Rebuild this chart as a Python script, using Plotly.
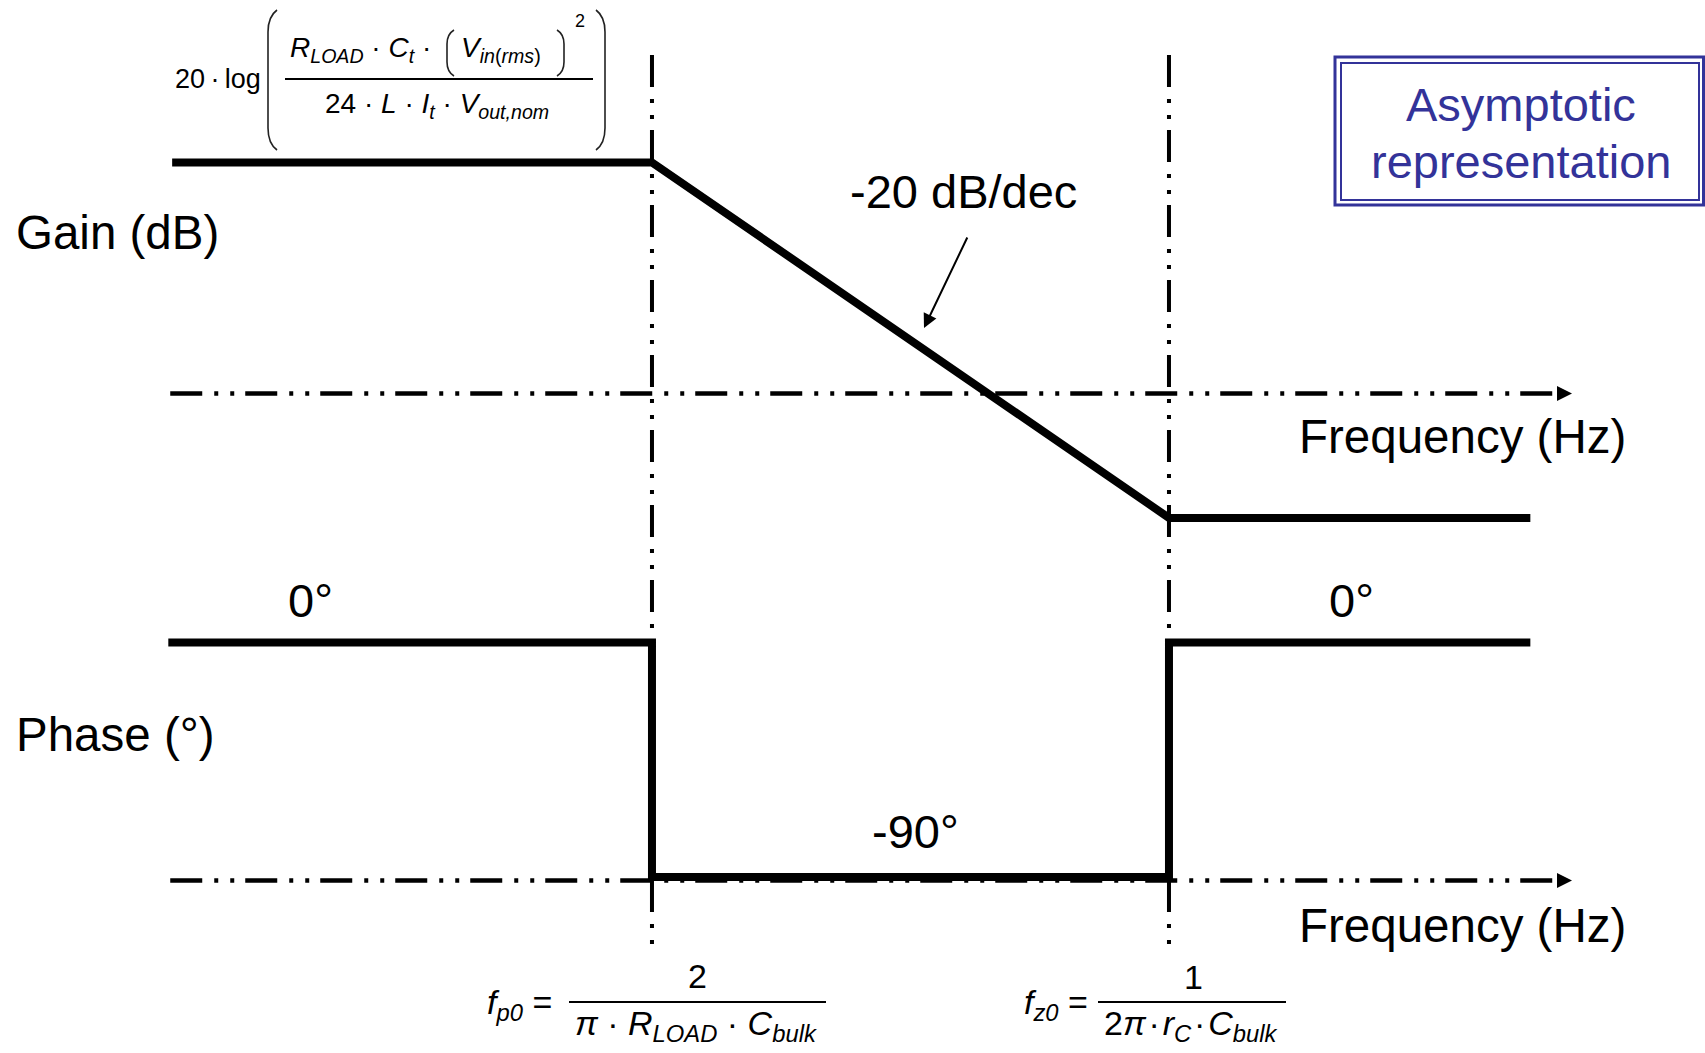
import numpy as np
import plotly.graph_objects as go

# ---- data -------------------------------------------------------------
# corner frequencies (Hz), one decade apart
f_p0_hz = 10
f_z0_hz = 100

# asymptotic gain: flat, -20 dB/dec between f_p0 and f_z0, flat again
gain_freq_hz = [1.18, 10, 100, 500]
gain_db = [13, 13, -7, -7]

# asymptotic phase: 0 deg, step to -90 deg between the corners, back to 0 deg
phase_freq_hz = [1.16, 10, 10, 100, 100, 500]
phase_deg = [0, 0, -90, -90, 0, 0]

# frequency axes: dashed extent and arrow tip (Hz)
axis_freq_hz = [1.17, 560]
axis_tip_hz = 602

# ---- canvas -----------------------------------------------------------
W, H = 1705, 1053
FONT = "Liberation Sans, Arial, sans-serif"
BLUE = "#333399"
DASH = "32px,12px,4px,12px,4px,11px"
NB = "\u00a0"
THIN = "\u2009"
HAIR = "\u200a"


def px(x):
    return x / W


def py(y):
    return 1 - y / H


fig = go.Figure()

fig.add_trace(go.Scatter(
    x=np.log10(gain_freq_hz), y=gain_db, mode="lines",
    line=dict(color="black", width=8), yaxis="y", hoverinfo="skip"))
fig.add_trace(go.Scatter(
    x=np.log10(phase_freq_hz), y=phase_deg, mode="lines",
    line=dict(color="black", width=8), yaxis="y2", hoverinfo="skip"))

shapes = []
# frequency axes (gain axis at 0 dB, phase axis just under -90 deg)
for yy in (393.5, 880.5):
    shapes.append(dict(type="line", xref="x", yref="paper",
                       x0=np.log10(axis_freq_hz[0]), x1=np.log10(axis_freq_hz[1]),
                       y0=py(yy), y1=py(yy),
                       line=dict(color="black", width=4.5, dash=DASH)))
# corner-frequency markers
for fc in (f_p0_hz, f_z0_hz):
    shapes.append(dict(type="line", xref="x", yref="paper",
                       x0=np.log10(fc), x1=np.log10(fc), y0=py(55), y1=py(954),
                       line=dict(color="black", width=4, dash=DASH)))

# "Asymptotic representation" double frame
shapes.append(dict(type="rect", xref="paper", yref="paper",
                   x0=px(1335), x1=px(1703.5), y0=py(205), y1=py(57),
                   line=dict(color=BLUE, width=3)))
shapes.append(dict(type="rect", xref="paper", yref="paper",
                   x0=px(1341), x1=px(1699), y0=py(200), y1=py(63),
                   line=dict(color=BLUE, width=2)))


def paren(x_end, x_mid, y_top, y_bot, r):
    """Tall thin bracket-style parenthesis as an SVG path in paper units."""
    return ("M {a},{b} Q {c},{d} {c},{e} L {c},{f} Q {c},{g} {a},{h}".format(
        a=px(x_end), b=py(y_top), c=px(x_mid), d=py(y_top + r * 0.3),
        e=py(y_top + r), f=py(y_bot - r), g=py(y_bot - r * 0.3), h=py(y_bot)))


for xe, xm, yt, yb, r in [(277, 268, 10, 150, 22), (596, 605, 10, 150, 22),
                          (454, 447, 30, 76, 14), (557, 564, 30, 76, 14)]:
    shapes.append(dict(type="path", xref="paper", yref="paper",
                       path=paren(xe, xm, yt, yb, r),
                       line=dict(color="#222222", width=1.6)))

# fraction bars
for x0, x1, yy in [(285, 593, 79), (569, 826, 1002), (1098, 1286, 1002)]:
    shapes.append(dict(type="line", xref="paper", yref="paper",
                       x0=px(x0), x1=px(x1), y0=py(yy), y1=py(yy),
                       line=dict(color="black", width=1.8)))

ann = []


def label(text, x, y, size=47, xanchor="left", color="black"):
    ann.append(dict(text=text, x=px(x), y=py(y), xref="paper", yref="paper",
                    xanchor=xanchor, yanchor="middle", showarrow=False,
                    font=dict(family=FONT, size=size, color=color)))


label("Gain (dB)", 14, 232.5, size=47.5)
label("Phase (°)", 14, 734, size=47.5)
label("Frequency (Hz)", 1297, 436.5, size=47.5)
label("Frequency (Hz)", 1297, 925, size=47.5)
label("-20 dB/dec", 963, 192, xanchor="center")
label("0°", 310, 600, xanchor="center")
label("0°", 1351, 600, xanchor="center")
label("-90°", 915, 831, xanchor="center")
label("Asymptotic", 1521, 104.5, xanchor="center", color=BLUE)
label("representation", 1521, 161, xanchor="center", color=BLUE)

# DC gain expression
dot = NB + "·" + NB
label("20" + THIN + "·" + THIN + "log", 173, 79, size=27)
label("<i>R</i><sub><i>LOAD</i></sub>" + dot + "<i>C</i><sub><i>t</i></sub>" + dot,
      288, 50, size=28)
label("<i>V</i><sub><i>in</i>(<i>rms</i>)</sub>", 459, 50, size=28)
label("2", 580, 21, size=18, xanchor="center")
label("24" + dot + "<i>L</i>" + dot + "<i>I</i><sub><i>t</i></sub>" + dot
      + "<i>V</i><sub><i>out,nom</i></sub>", 437, 105, size=28, xanchor="center")

# corner-frequency expressions
label("<i>f</i><sub><i>p0</i></sub>" + NB + "=", 485, 1004, size=34)
label("2", 697, 976, size=34, xanchor="center")
label("<i>π</i>" + dot + "<i>R</i><sub><i>LOAD</i></sub>" + dot + "<i>C</i><sub><i>bulk</i></sub>",
      696, 1025, size=34, xanchor="center")
label("<i>f</i><sub><i>z0</i></sub>" + NB + "=", 1022, 1004, size=34)
label("1", 1193, 977, size=34, xanchor="center")
hdot = HAIR + "·" + HAIR
label("2<i>π</i>" + hdot + "<i>r</i><sub><i>C</i></sub>" + hdot + "<i>C</i><sub><i>bulk</i></sub>",
      1191, 1025, size=34, xanchor="center")

# axis arrowheads
for yy in (393.5, 880.5):
    ann.append(dict(text="", x=np.log10(axis_tip_hz), y=py(yy), xref="x", yref="paper",
                    showarrow=True, ax=-16, ay=0, arrowhead=2, arrowwidth=3,
                    arrowsize=1, arrowcolor="black"))

# slope call-out arrow
ann.append(dict(text="", x=px(924), y=py(328), xref="paper", yref="paper",
                showarrow=True, ax=44, ay=-92, arrowhead=2, arrowwidth=2,
                arrowsize=1.4, arrowcolor="black"))

fig.update_layout(
    width=W, height=H,
    margin=dict(l=0, r=0, t=0, b=0),
    paper_bgcolor="white", plot_bgcolor="white",
    showlegend=False,
    xaxis=dict(range=[-0.2611, 3.0368], visible=False, fixedrange=True),
    yaxis=dict(range=[-37.11, 22.14], visible=False, fixedrange=True),
    yaxis2=dict(range=[-157.55, 246.6], visible=False, fixedrange=True,
                overlaying="y"),
    shapes=shapes,
    annotations=ann,
)

fig.write_html("out.html")
